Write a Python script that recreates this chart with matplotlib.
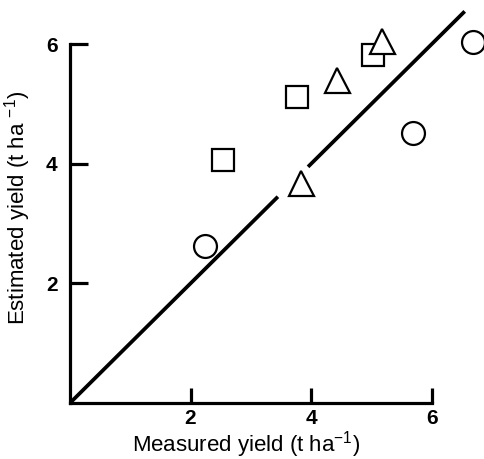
import numpy as np
import matplotlib
matplotlib.use("Agg")
import matplotlib.pyplot as plt

plt.rcParams['font.family'] = ['Liberation Sans', 'DejaVu Sans']
plt.rcParams['mathtext.fontset'] = 'custom'
plt.rcParams['mathtext.rm'] = 'Liberation Sans'
plt.rcParams['mathtext.bf'] = 'Liberation Sans:bold'

# measured vs estimated yield (t/ha), one list per group
circle_x = [2.24, 5.69, 6.69]
circle_y = [2.63, 4.52, 6.04]
square_x = [2.54, 3.77, 5.03]
square_y = [4.07, 5.12, 5.82]
triangle_x = [3.84, 4.43, 5.17]
triangle_y = [3.68, 5.41, 6.06]

# 1:1 line, broken where it passes the lowest triangle
line_parts = [(0.0, 3.45), (3.95, 6.55)]
ticks = [2, 4, 6]

fig = plt.figure(figsize=(4.84, 4.59), dpi=100)
ax = fig.add_axes([70/484, 56/459, 414/484, 403/459])

for a, b in line_parts:
    xs = np.array([a, b])
    ax.plot(xs, xs, color='black', lw=2.7, solid_capstyle='butt')

mk = dict(linestyle='none', mfc='white', mec='black', mew=1.6, clip_on=False)
ax.plot(circle_x, circle_y, marker='o', ms=16.5, **mk)
ax.plot(square_x, square_y, marker='s', ms=16.5, **mk)
ax.plot(triangle_x, triangle_y, marker='^', ms=18, **mk)

ax.set_xlim(0, 6.87)
ax.set_ylim(0, 6.74)
for s in ['top', 'right']:
    ax.spines[s].set_visible(False)
for s in ['left', 'bottom']:
    ax.spines[s].set_bounds(0, 6)
    ax.spines[s].set_linewidth(2.3)
    ax.spines[s].set_capstyle('projecting')

ax.set_xticks(ticks)
ax.set_yticks(ticks)
ax.set_xticklabels([str(t) for t in ticks], fontweight='bold')
ax.set_yticklabels([str(t) for t in ticks], fontweight='bold')
ax.tick_params(axis='x', direction='in', length=11, width=2.3, labelsize=15, pad=4)
ax.tick_params(axis='y', direction='in', length=13, width=2.3, labelsize=15, pad=9)

fig.text(246/484, 1 - 452/459, r'Measured yield (t ha$^{-1}$)', fontsize=16,
         ha='center', va='baseline')
fig.text(18/484, 1 - 208/459, r'Estimated yield (t ha $^{-1}$)', fontsize=16,
         ha='center', va='center', rotation=90)

fig.savefig("out.png", dpi=100)
